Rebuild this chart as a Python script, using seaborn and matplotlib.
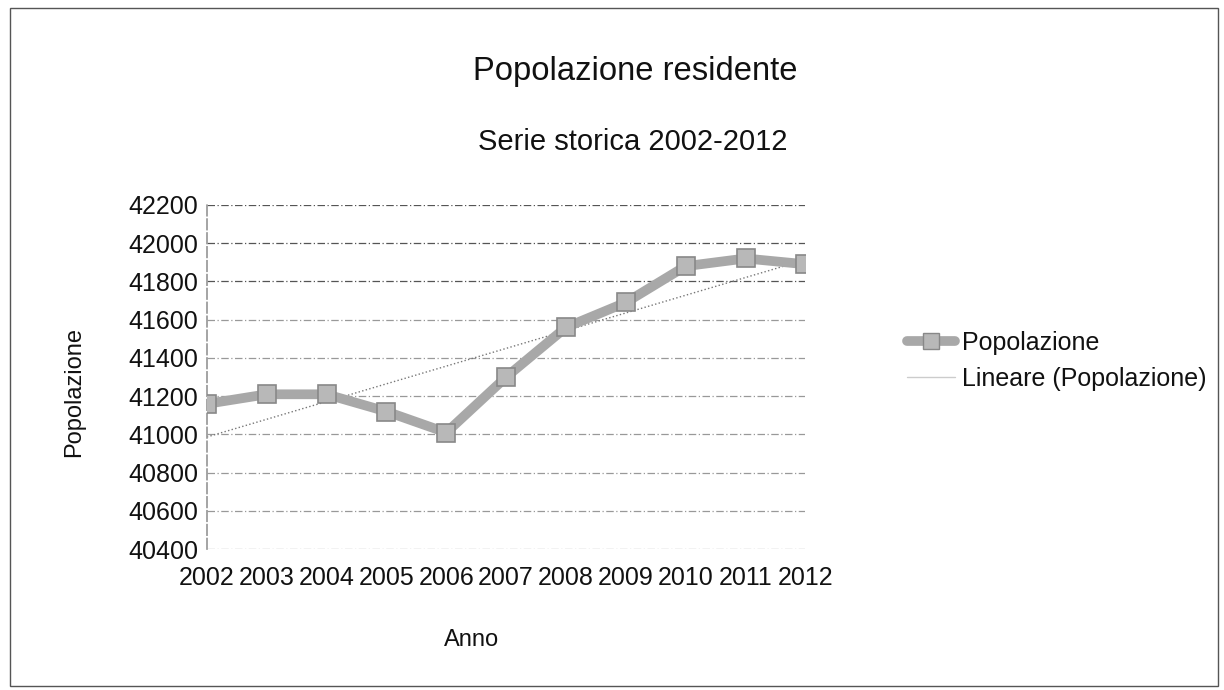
import matplotlib
matplotlib.use("Agg")
import matplotlib.pyplot as plt
import seaborn as sns
import pandas as pd
from matplotlib.patches import Rectangle
from matplotlib.lines import Line2D

years = [2002, 2003, 2004, 2005, 2006, 2007, 2008, 2009, 2010, 2011, 2012]
popolazione = [41160, 41210, 41210, 41120, 41010, 41300, 41560, 41690, 41880, 41920, 41890]
y_ticks = [40400, 40600, 40800, 41000, 41200, 41400, 41600, 41800, 42000, 42200]

df = pd.DataFrame({"Anno": years, "Popolazione": popolazione})

sns.set_theme(style="white")
plt.rcParams['font.family'] = ['Liberation Sans', 'DejaVu Sans']
plt.rcParams['text.color'] = '#111111'
plt.rcParams['axes.labelcolor'] = '#111111'
plt.rcParams['xtick.color'] = '#111111'
plt.rcParams['ytick.color'] = '#111111'

fig = plt.figure(figsize=(12.24, 6.9), dpi=100)
ax = fig.add_axes([0.169, 0.204, 0.489, 0.499])

for i, v in enumerate(y_ticks):
    col = "#555555" if v >= 41800 else "#999999"
    ax.axhline(v, color=col, lw=0.9, ls=(0, (6, 2, 1, 2)), zorder=0)

sns.regplot(data=df, x="Anno", y="Popolazione", ax=ax, scatter=False, ci=None,
            line_kws=dict(color="#777777", lw=1.0, ls=":"), truncate=True)

sns.lineplot(data=df, x="Anno", y="Popolazione", ax=ax, color="#a8a8a8", lw=7,
             marker="s", markersize=13, markerfacecolor="#b8b8b8",
             markeredgecolor="#888888", markeredgewidth=1.2, zorder=3)

ax.set_xlim(2002, 2012)
ax.set_ylim(40400, 42200)
ax.set_xticks(years)
ax.set_xticklabels([str(y) for y in years], fontsize=18)
ax.set_yticks(y_ticks)
ax.set_yticklabels([str(v) for v in y_ticks], fontsize=18)
ax.tick_params(axis="x", pad=12, length=0)
ax.tick_params(axis="y", pad=6, length=0)
for s in ["top", "right", "bottom"]:
    ax.spines[s].set_visible(False)
ax.spines["left"].set_color("#999999")
ax.spines["left"].set_linestyle((0, (6, 2)))
ax.set_xlabel("Anno", fontsize=17)
ax.set_ylabel("Popolazione", fontsize=17)
ax.xaxis.set_label_coords(0.443, -0.233)
ax.yaxis.set_label_coords(-0.204, 0.456)

fig.text(0.519, 0.896, "Popolazione residente", ha="center", va="center", fontsize=23.6)
fig.text(0.517, 0.794, "Serie storica 2002-2012", ha="center", va="center", fontsize=21)

handles = [
    Line2D([0], [0], color="#a8a8a8", lw=7, marker="s", markersize=11,
           markerfacecolor="#b8b8b8", markeredgecolor="#888888"),
    Line2D([0], [0], color="#cccccc", lw=1.0),
]
leg = fig.legend(handles, ["Popolazione", "Lineare (Popolazione)"],
                 loc="center left", bbox_to_anchor=(0.723, 0.477), frameon=False,
                 fontsize=18, handlelength=1.9, handletextpad=0.3, labelspacing=0.5)

fig.patches.append(Rectangle((0.008, 0.006), 0.987, 0.982, transform=fig.transFigure,
                             fill=False, edgecolor="#555555", lw=1.0))

fig.savefig("out.png", dpi=100)
